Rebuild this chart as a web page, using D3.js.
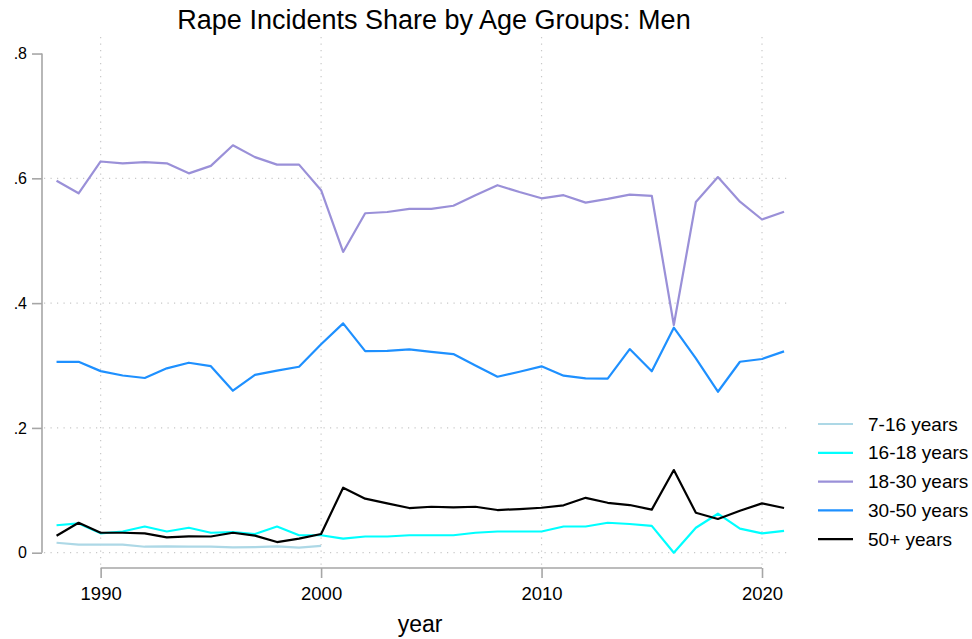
<!DOCTYPE html>
<html>
<head>
<meta charset="utf-8">
<script src="https://cdn.jsdelivr.net/npm/d3@7"></script>
<style>
  body { margin: 0; background: #fff; }
  svg { font-family: "Liberation Sans", Arial, sans-serif; }
</style>
</head>
<body>
<svg id="chart" width="972" height="639"></svg>
<script>
const years = d3.range(1988, 2022);

const age7to16 = [0.016, 0.013, 0.013, 0.013, 0.0096, 0.010, 0.0096, 0.0096, 0.0086, 0.009, 0.010, 0.008, 0.011];
const age16to18 = [0.044, 0.047, 0.031, 0.034, 0.042, 0.034, 0.040, 0.032, 0.033, 0.030, 0.042, 0.028, 0.028,
    0.0225, 0.026, 0.026, 0.028, 0.028, 0.028, 0.032, 0.034, 0.034, 0.034, 0.042, 0.042, 0.048, 0.046, 0.043,
    0.0, 0.040, 0.0625, 0.0385, 0.031, 0.035];
const age18to30 = [0.596, 0.576, 0.627, 0.624, 0.626, 0.624, 0.608, 0.620, 0.653, 0.634, 0.622, 0.622, 0.581,
    0.482, 0.544, 0.546, 0.551, 0.551, 0.556, 0.573, 0.589, 0.578, 0.568, 0.573, 0.561, 0.567, 0.574, 0.572,
    0.365, 0.562, 0.602, 0.5625, 0.534, 0.5465];
const age30to50 = [0.306, 0.306, 0.291, 0.284, 0.280, 0.2955, 0.3045, 0.299, 0.2596, 0.285, 0.2917, 0.298, 0.334,
    0.3676, 0.323, 0.3235, 0.326, 0.322, 0.3184, 0.300, 0.282, 0.290, 0.2987, 0.2837, 0.2795, 0.279, 0.3264, 0.2907,
    0.3606, 0.3115, 0.258, 0.306, 0.3104, 0.3227];
const age50plus = [0.0273, 0.048, 0.032, 0.032, 0.031, 0.0247, 0.0263, 0.026, 0.032, 0.0273, 0.0171, 0.0225, 0.030,
    0.1042, 0.0866, 0.079, 0.0716, 0.0737, 0.0727, 0.0737, 0.0684, 0.070, 0.0721, 0.076, 0.088, 0.080, 0.0764, 0.069,
    0.1325, 0.064, 0.054, 0.0673, 0.079, 0.0716];

const seriesNames = ['7-16 years', '16-18 years', '18-30 years', '30-50 years', '50+ years'];
const seriesValues = [age7to16, age16to18, age18to30, age30to50, age50plus];
const seriesColors = ['#add8e6', '#00ffff', '#9a90d8', '#1e90ff', '#000000'];

const xTicks = [1990, 2000, 2010, 2020];
const yTicks = [0, 0.2, 0.4, 0.6, 0.8];
const yGrid = [0, 0.2, 0.4, 0.6];

const svg = d3.select('#chart');
const plotLeft = 42, plotRight = 790, plotTop = 37, plotBottom = 568;

const x = d3.scaleLinear().domain([1987.34, 2021.27]).range([plotLeft, plotRight]);
const y = d3.scaleLinear().domain([-0.0245, 0.8265]).range([plotBottom, plotTop]);

// grid
const grid = svg.append('g')
    .attr('stroke', '#c8c8c8')
    .attr('stroke-width', 1.2)
    .attr('stroke-dasharray', '1.2,5.3');
grid.selectAll('.hgrid')
    .data(yGrid)
    .enter()
    .append('line')
    .attr('x1', plotLeft + 2)
    .attr('x2', plotRight)
    .attr('y1', d => y(d))
    .attr('y2', d => y(d));
grid.selectAll('.vgrid')
    .data(xTicks)
    .enter()
    .append('line')
    .attr('x1', d => x(d))
    .attr('x2', d => x(d))
    .attr('y1', plotTop)
    .attr('y2', plotBottom - 2);

// axes
const yAxis = svg.append('g')
    .attr('transform', `translate(${plotLeft},0)`)
    .call(d3.axisLeft(y)
        .tickValues(yTicks)
        .tickSize(10)
        .tickPadding(5)
        .tickFormat(d => d === 0 ? '0' : d3.format('.1f')(d).replace(/^0/, '')));
yAxis.select('.domain').remove();
yAxis.append('line')
    .attr('y1', y(0))
    .attr('y2', y(0.8));
yAxis.selectAll('line')
    .attr('stroke', '#a6a6a6')
    .attr('stroke-width', 1.6);
yAxis.selectAll('text')
    .attr('fill', '#000')
    .style('font-size', '16px')
    .style('font-family', '"Liberation Sans", Arial, sans-serif');

const xAxis = svg.append('g')
    .attr('transform', `translate(0,${plotBottom})`)
    .call(d3.axisBottom(x)
        .tickValues(xTicks)
        .tickSize(10)
        .tickPadding(9)
        .tickFormat(d3.format('d')));
xAxis.select('.domain').remove();
xAxis.append('line')
    .attr('x1', x(1990))
    .attr('x2', x(2020));
xAxis.selectAll('line')
    .attr('stroke', '#a6a6a6')
    .attr('stroke-width', 1.6);
xAxis.selectAll('text')
    .attr('fill', '#000')
    .style('font-size', '18.5px')
    .style('font-family', '"Liberation Sans", Arial, sans-serif');

// lines
const line = d3.line()
    .x((d, i) => x(years[i]))
    .y(d => y(d));

svg.append('g')
    .selectAll('path')
    .data(seriesValues)
    .enter()
    .append('path')
    .attr('d', d => line(d))
    .attr('fill', 'none')
    .attr('stroke', (d, i) => seriesColors[i])
    .attr('stroke-width', 2.2)
    .attr('stroke-linejoin', 'round');

// legend
const legend = svg.append('g')
    .selectAll('g')
    .data(seriesNames)
    .enter()
    .append('g')
    .attr('transform', (d, i) => `translate(818,${424 + i * 28.8})`);
legend.append('line')
    .attr('x1', 0)
    .attr('x2', 35)
    .attr('stroke', (d, i) => seriesColors[i])
    .attr('stroke-width', 2.2);
legend.append('text')
    .attr('x', 50)
    .attr('dy', '0.35em')
    .style('font-size', '19px')
    .text(d => d);

// titles
svg.append('text')
    .attr('x', 434)
    .attr('y', 29)
    .attr('text-anchor', 'middle')
    .style('font-size', '27px')
    .text('Rape Incidents Share by Age Groups: Men');
svg.append('text')
    .attr('x', 420)
    .attr('y', 632)
    .attr('text-anchor', 'middle')
    .style('font-size', '23px')
    .text('year');
</script>
</body>
</html>
